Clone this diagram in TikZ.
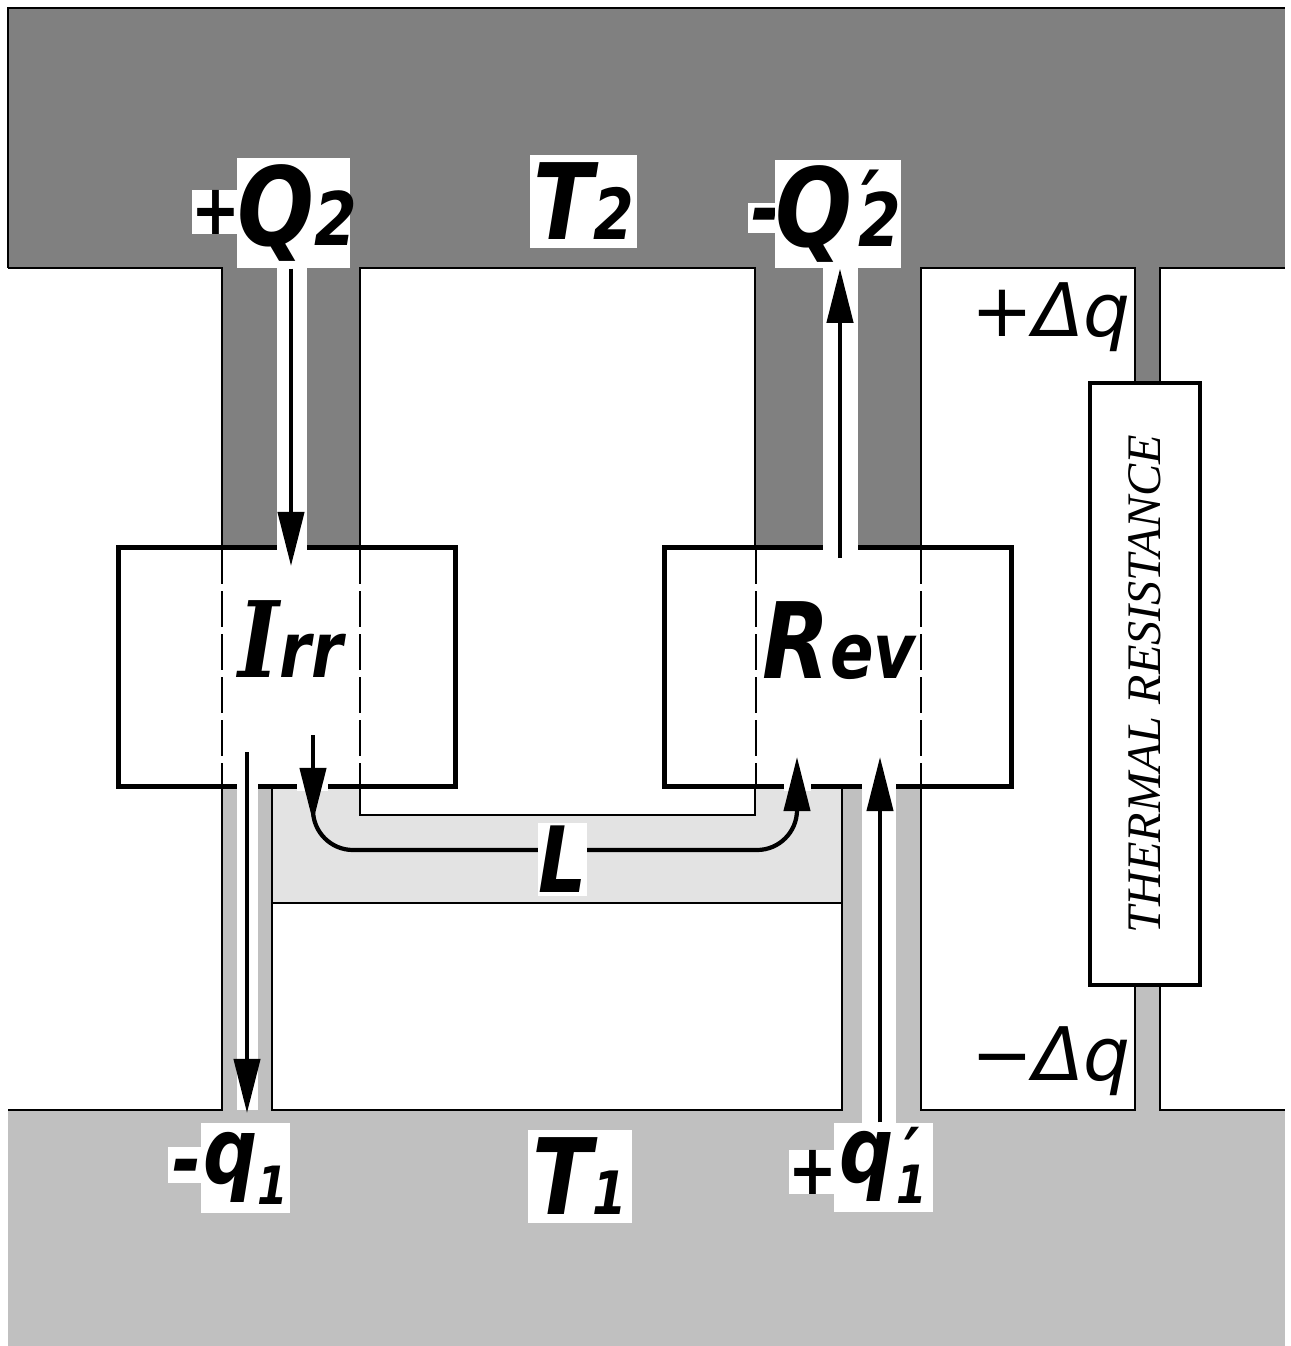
\documentclass[tikz,border=0pt]{standalone}
\usepackage{fontspec}
\usepackage{graphicx}
\usetikzlibrary{arrows.meta}
\newfontfamily\labfont{DejaVu Sans}[BoldFont={DejaVu Sans Bold},ItalicFont={DejaVu Sans Oblique},BoldItalicFont={DejaVu Sans Bold Oblique}]
\newfontfamily\slabfont{DejaVu Serif}[BoldFont={DejaVu Serif Bold},ItalicFont={DejaVu Serif Italic},BoldItalicFont={DejaVu Serif Bold Italic}]
\newfontfamily\trfont{Liberation Serif}
\newcommand\fs[1]{\fontsize{#1}{#1}\selectfont}
\newcommand\lbl[1]{\scalebox{0.83}[1]{\labfont\bfseries\itshape #1}}
\newcommand\primemark{\raisebox{-0.5em}[0.27em][0pt]{′}}
\definecolor{darkband}{HTML}{808080}
\definecolor{lightband}{HTML}{C0C0C0}
\definecolor{lregion}{HTML}{E3E3E3}
\begin{document}
\begin{tikzpicture}[x=0.01cm,y=-0.01cm,
  outline/.style={line width=0.6pt},
  boxst/.style={draw, line width=1.4pt, fill=white, inner sep=0pt},
  colline/.style={dash pattern=on 3.6mm off 0.7mm, line width=0.6pt},
  arr/.style={line width=1.2pt, -{Triangle[length=5.4mm,width=2.6mm]}},
  flow/.style={line width=1.2pt},
  labbox/.style={fill=white, inner sep=0pt},
  gap/.style={fill=white}]
\useasboundingbox (0,0) rectangle (1290,1346);
\fill[white] (0,0) rectangle (1290,1346);
% reservoirs and conductors
\fill[darkband] (8,8) rectangle (1285,268);
\fill[darkband] (222,268) rectangle (360,548);
\fill[darkband] (755,268) rectangle (921,548);
\fill[darkband] (1135,268) rectangle (1160,383);
\fill[lregion] (272,786) rectangle (842,903);
\fill[white] (360,786) rectangle (755,815);
\fill[lightband] (222,786) rectangle (272,1110);
\fill[lightband] (842,786) rectangle (921,1110);
\fill[lightband] (1135,985) rectangle (1160,1110);
\fill[lightband] (8,1110) rectangle (1285,1346);
% channels
\fill[white] (277,268) rectangle (307,548);
\fill[white] (823,268) rectangle (858,548);
\fill[white] (237,786) rectangle (258,1110);
\fill[white] (862,786) rectangle (896,1123);
% outlines
\draw[outline] (8,268) -- (8,8) -- (1285,8);
\draw[outline] (8,268) -- (222,268) -- (222,548);
\draw[outline] (222,786) -- (222,1110) -- (8,1110);
\draw[outline] (360,548) -- (360,268) -- (755,268) -- (755,548);
\draw[outline] (360,786) -- (360,815) -- (755,815) -- (755,786);
\draw[outline] (921,548) -- (921,268) -- (1135,268) -- (1135,383);
\draw[outline] (1160,383) -- (1160,268) -- (1285,268);
\draw[outline] (921,786) -- (921,1110) -- (1135,1110) -- (1135,985);
\draw[outline] (1160,985) -- (1160,1110) -- (1285,1110);
\draw[outline] (272,786) -- (272,1110) -- (842,1110) -- (842,786);
\draw[outline] (272,903) -- (842,903);
% boxes
\node[boxst, minimum width=3.36cm, minimum height=2.38cm] (Irr) at (287,667) {};
\node[boxst, minimum width=3.46cm, minimum height=2.38cm] (Rev) at (838,667) {};
\node[boxst, line width=1.2pt, rotate=90, minimum width=6.02cm, minimum height=1.1cm] (TR) at (1145,684)
  {\trfont\itshape\fs{13.7}THERMAL RESISTANCE};
% dashed conductor edges inside the boxes
\draw[colline] (222,548) -- (222,786);
\draw[colline] (360,548) -- (360,786);
\draw[colline] (756,548) -- (756,786);
\draw[colline] (921,548) -- (921,786);
% gaps in box borders
\fill[gap] (277,543) rectangle (307,553);
\fill[gap] (237,781) rectangle (258,791);
\fill[gap] (297,781) rectangle (328,791);
\fill[gap] (823,543) rectangle (858,553);
\fill[gap] (862,781) rectangle (896,791);
\fill[gap] (784,781) rectangle (811,791);
% box texts
\node[anchor=base, inner sep=0pt] (IrrT) at (291,677) {\lbl{{\slabfont\fs{30}I}\fs{22}rr}};
\node[anchor=base, inner sep=0pt] (RevT) at (839,678) {\lbl{\fs{30}R\fs{22}ev}};
% labels
\node[labbox, minimum width=0.42cm, minimum height=0.41cm] (plQ) at (216,212) {\lbl{\fs{20}+}};
\node[labbox, minimum width=1.13cm, minimum height=1.1cm] (Q2) at (293.5,213) {};
\node[inner sep=0pt] (Q2t) at (297,213) {\lbl{\fs{31}Q\fs{21}2}};
\node[labbox, minimum width=1.07cm, minimum height=0.93cm] (T2) at (583.5,201.5) {\lbl{\fs{30}T\fs{20}2}};
\node[labbox, minimum width=0.35cm, minimum height=0.30cm] (miQ) at (765.5,218) {};
\node[anchor=base, inner sep=0pt] (miQt) at (766,239) {\lbl{\fs{24}-}};
\node[labbox, minimum width=1.10cm, minimum height=1.08cm] (Q2p) at (838,214)
  {\lbl{\fs{31}Q\hspace{2pt}\fs{21}2}};
\node[anchor=south, inner sep=0pt] (Q2pr) at (871,190) {\lbl{\fs{24}\primemark}};
\node[labbox, minimum width=0.36cm, minimum height=0.36cm] (miq) at (186,1165) {};
\node[anchor=base, inner sep=0pt] (miqt) at (187,1189) {\lbl{\fs{24}-}};
\node[labbox, minimum width=0.89cm, minimum height=0.90cm] (q1) at (245.5,1168) {\lbl{\fs{26}q\fs{15}\raisebox{-6pt}{1}}};
\node[labbox, minimum width=1.04cm, minimum height=0.93cm] (T1) at (580,1176.5) {\lbl{\fs{30}T\fs{17}1}};
\node[labbox, minimum width=0.46cm, minimum height=0.40cm] (plq) at (813,1172) {\lbl{\fs{20}+}};
\node[labbox, minimum width=0.99cm, minimum height=0.89cm] (q1p) at (883.5,1167.5)
  {\lbl{\fs{26}q\hspace{1pt}\fs{15}\raisebox{-6pt}{1}}};
\node[anchor=south, inner sep=0pt] (q1pr) at (912,1144) {\lbl{\fs{20}\primemark}};
\node[anchor=base, inner sep=0pt] (dqp) at (1051,337) {\labfont\itshape\fs{21}+Δq};
\node[anchor=base, inner sep=0pt] (dqm) at (1051,1080) {\labfont\itshape\fs{21}−Δq};
% heat flows
\coordinate (q2in) at (291,566);
\coordinate (q2out) at (840,558);
\coordinate (q1start) at (247,752);
\coordinate (q1end) at (247,1113);
\coordinate (q1pend) at (880,757);
\coordinate (Lstart) at (313,735);
\coordinate (Lend) at (797,757);
\draw[arr] (Q2.south -| q2in) -- (q2in);
\draw[arr] (q2out) -- (q2out |- Q2p.south);
\draw[arr] (q1start) -- (q1end);
\draw[arr] (q1p.north -| q1pend) -- (q1pend);
\draw[arr] (Lstart) -- (313,822);
\draw[flow, rounded corners=0.4cm] (313,800) |- (797,850) -- (797,800);
\draw[arr] (797,812) -- (Lend);
\node[labbox, minimum width=0.49cm, minimum height=0.73cm] (L) at (562.5,859.5) {\lbl{\fs{26}L}};
\end{tikzpicture}
\end{document}
